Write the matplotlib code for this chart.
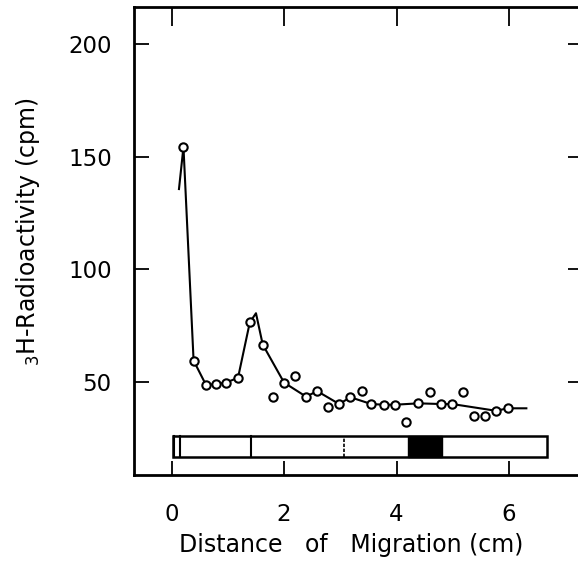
#!/usr/bin/env python3
# -*- coding: UTF-8 -*-

import numpy as np
import matplotlib
matplotlib.use("Agg")
import matplotlib.pyplot as plt
from matplotlib.patches import Rectangle

# measured fractions (open circles)
frac_x = [0.21, 0.39, 0.61, 0.78, 0.96, 1.18, 1.39, 1.62, 1.81, 2.00,
          2.19, 2.39, 2.59, 2.79, 2.98, 3.18, 3.39, 3.55, 3.77, 3.98,
          4.17, 4.39, 4.59, 4.79, 4.99, 5.19, 5.38, 5.57, 5.77, 5.98]
frac_cpm = [154.3, 59.5, 48.7, 49.0, 49.7, 51.8, 76.4, 66.6, 43.5, 49.7,
            52.7, 43.5, 45.9, 38.8, 40.2, 43.2, 45.9, 40.2, 39.9, 39.9,
            32.4, 40.5, 45.7, 40.2, 40.2, 45.7, 34.9, 34.9, 37.2, 38.3]

# hand drawn curve through the main points
curve_x = [0.13, 0.21, 0.39, 0.61, 0.78, 0.96, 1.18, 1.39, 1.50, 1.62,
           2.00, 2.39, 2.59, 2.98, 3.18, 3.55, 3.77, 3.98, 4.39, 4.79,
           4.99, 5.77, 5.98, 6.31]
curve_cpm = [135.6, 154.3, 59.5, 48.7, 49.0, 49.7, 51.8, 76.4, 80.5, 66.6,
             49.7, 43.5, 45.9, 40.2, 43.2, 40.2, 39.9, 39.9, 40.5, 40.2,
             40.2, 37.2, 38.3, 38.3]

# gel schematic
gel_start, gel_end = 0.02, 6.68
gel_bottom, gel_top = 16.7, 26.0
gel_origin = [0.05, 0.14]
gel_solid_lines = [1.41]
gel_dotted_lines = [3.06]
gel_black = (4.20, 4.81)

xticks = [0, 2, 4, 6]
yticks = [50, 100, 150, 200]

fig = plt.figure(figsize=(5.78, 5.62), dpi=100)
ax = fig.add_axes([134/578, 1-475/562, 448/578, 468/562])

ax.plot(curve_x, curve_cpm, color="black", lw=1.5, zorder=2)
ax.plot(frac_x, frac_cpm, ls="none", marker="o", ms=6, mfc="white",
        mec="black", mew=1.5, zorder=3)

# gel bar
ax.add_patch(Rectangle((gel_start, gel_bottom), gel_end-gel_start, gel_top-gel_bottom,
                       fill=False, ec="black", lw=1.8, zorder=2))
ax.add_patch(Rectangle((gel_black[0], gel_bottom), gel_black[1]-gel_black[0],
                       gel_top-gel_bottom, fc="black", ec="black", lw=1, zorder=2))
for x in gel_origin:
    ax.plot([x, x], [gel_bottom, gel_top], color="black", lw=1.5)
for x in gel_solid_lines:
    ax.plot([x, x], [gel_bottom, gel_top], color="black", lw=1.5)
for x in gel_dotted_lines:
    ax.plot([x, x], [gel_bottom, gel_top], color="black", lw=1.2, ls=(0, (2, 1)))

ax.set_xlim(-0.67, 7.30)
ax.set_ylim(8.7, 216.4)
ax.set_xticks(xticks)
ax.set_yticks(yticks)
ax.tick_params(direction="in", length=10, width=1.3, top=True, right=True,
               labelsize=16.5)
ax.tick_params(axis="x", pad=20)
ax.tick_params(axis="y", pad=16)
# top ticks are drawn longer than the others
for t in ax.xaxis.get_major_ticks():
    t.tick2line.set_markersize(14)
for t in ax.yaxis.get_major_ticks():
    t.tick1line.set_markersize(11)
for s in ax.spines.values():
    s.set_linewidth(2)

ax.set_xlabel("Distance   of   Migration (cm)", fontsize=17, labelpad=5, x=0.484)
ax.set_ylabel(r"$_{\mathregular{3}}$H-Radioactivity (cpm)", fontsize=17, labelpad=19, y=0.52)

plt.savefig("out.png", dpi=100)
